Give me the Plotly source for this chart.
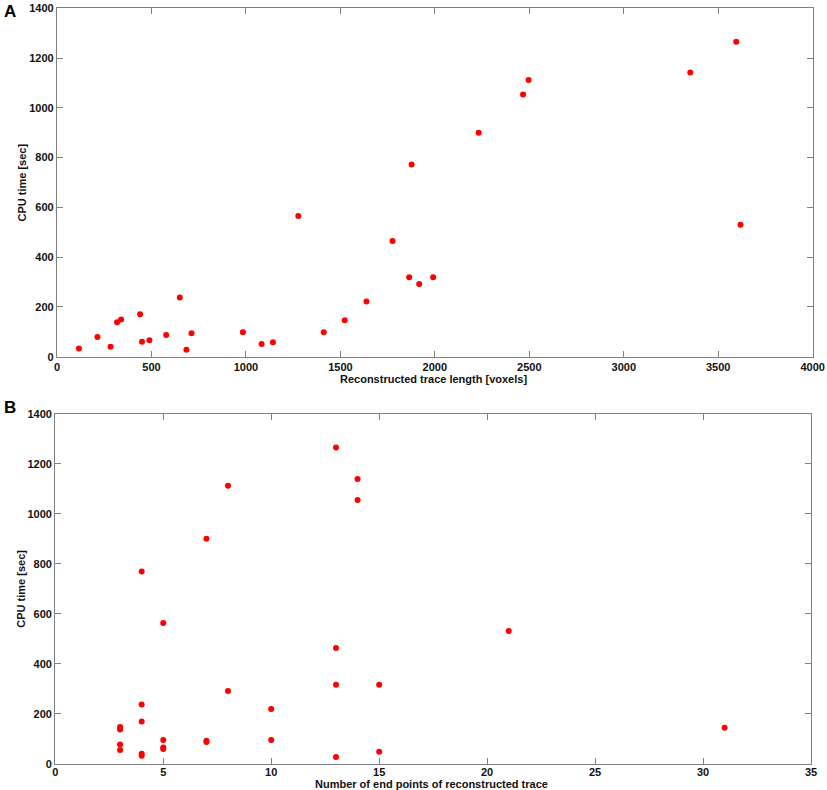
import plotly.graph_objects as go

# Panel A: reconstructed trace length [voxels] vs CPU time [sec]
trace_length = [116, 214, 284, 318, 339, 440, 450, 489, 578, 650, 685, 712, 984, 1083, 1143,
                1277, 1412, 1523, 1638, 1776, 1864, 1877, 1917, 1991, 2232, 2467, 2496, 3352, 3595, 3618]
cpu_a = [33, 79, 40, 138, 149, 171, 60, 66, 87, 238, 28, 94, 98, 51, 58,
         565, 98, 146, 222, 465, 319, 772, 292, 319, 900, 1054, 1112, 1142, 1266, 530]

# Panel B: number of end points vs CPU time [sec]
end_points = [3, 3, 3, 3, 4, 4, 4, 4, 4, 5, 5, 5, 5, 7, 7, 7, 8, 8, 10, 10,
              13, 13, 13, 13, 14, 14, 15, 15, 21, 31]
cpu_b = [55, 77, 137, 147, 32, 40, 169, 237, 769, 59, 65, 95, 563, 87, 92, 900, 291, 1112, 95, 219,
         27, 316, 463, 1265, 1055, 1139, 48, 316, 531, 144]

x_ticks_a = [0, 500, 1000, 1500, 2000, 2500, 3000, 3500, 4000]
x_ticks_b = [0, 5, 10, 15, 20, 25, 30, 35]
y_ticks = [0, 200, 400, 600, 800, 1000, 1200, 1400]

W, H = 827, 790
FAM = "Liberation Sans, Arial, sans-serif"
fig = go.Figure()
fig.add_trace(go.Scatter(x=trace_length, y=cpu_a, mode="markers",
                         marker=dict(color="#ff0000", size=6), xaxis="x", yaxis="y", showlegend=False))
fig.add_trace(go.Scatter(x=end_points, y=cpu_b, mode="markers",
                         marker=dict(color="#ff0000", size=6), xaxis="x2", yaxis="y2", showlegend=False))

font_tick = dict(family=FAM, size=11, color="#111111", weight="bold")
title_font = dict(family=FAM, size=11, color="#111111", weight="bold")
axis_common = dict(showline=True, linecolor="#808080", linewidth=1.3, mirror="ticks",
                   ticks="inside", ticklen=6, tickwidth=1.3, tickcolor="#808080",
                   showgrid=False, zeroline=False, tickfont=font_tick, automargin=False)

A_L, A_R, A_T, A_B = 57, 812.7, 8.3, 356.7
B_L, B_R, B_T, B_B = 55.3, 811, 413.7, 763.7


def px(x):
    return x / W


def py(y):
    return 1 - y / H


fig.update_layout(
    width=W, height=H, margin=dict(l=0, r=0, t=0, b=0),
    paper_bgcolor="white", plot_bgcolor="white",
    xaxis=dict(domain=[px(A_L), px(A_R)], range=[0, 4000], tickvals=x_ticks_a, anchor="y", **axis_common),
    yaxis=dict(domain=[py(A_B), py(A_T)], range=[0, 1400], tickvals=y_ticks, anchor="x", **axis_common),
    xaxis2=dict(domain=[px(B_L), px(B_R)], range=[0, 35], tickvals=x_ticks_b, anchor="y2",
                ticklabelstandoff=-2, **axis_common),
    yaxis2=dict(domain=[py(B_B), py(B_T)], range=[0, 1400], tickvals=y_ticks, anchor="x2", **axis_common),
    annotations=[
        dict(text="<b>A</b>", x=px(2), y=py(0), xref="paper", yref="paper", xanchor="left", yanchor="top",
             showarrow=False, font=dict(size=17, family=FAM, color="black")),
        dict(text="<b>B</b>", x=px(2), y=py(396), xref="paper", yref="paper", xanchor="left", yanchor="top",
             showarrow=False, font=dict(size=17, family=FAM, color="black")),
        dict(text="Reconstructed trace length [voxels]", x=px(433), y=py(378.5), xref="paper", yref="paper",
             xanchor="center", yanchor="middle", showarrow=False, font=title_font),
        dict(text="Number of end points of reconstructed trace", x=px(431), y=py(784), xref="paper", yref="paper",
             xanchor="center", yanchor="middle", showarrow=False, font=title_font),
        dict(text="CPU time [sec]", x=px(21), y=py((A_T + A_B) / 2), xref="paper", yref="paper", textangle=-90,
             xanchor="center", yanchor="middle", showarrow=False, font=title_font),
        dict(text="CPU time [sec]", x=px(21), y=py((B_T + B_B) / 2), xref="paper", yref="paper", textangle=-90,
             xanchor="center", yanchor="middle", showarrow=False, font=title_font),
    ],
)

fig.write_html("out.html", config={"displayModeBar": False},
               post_script="document.body.style.margin='0';document.body.style.padding='0';")
